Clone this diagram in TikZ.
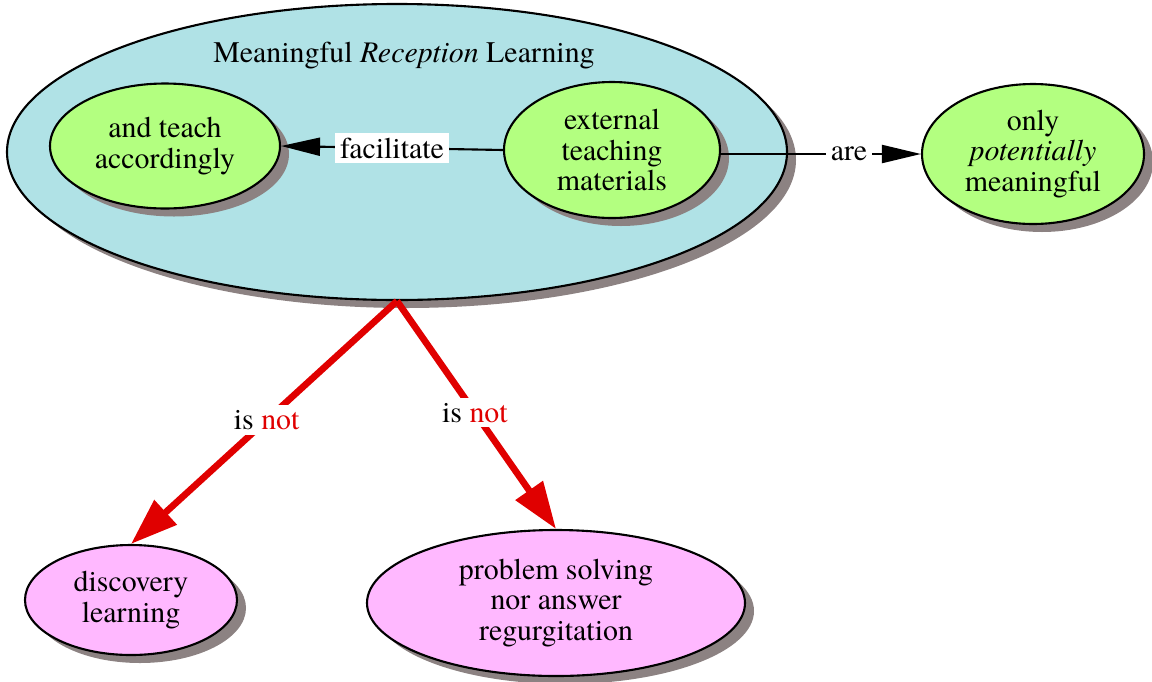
\documentclass[tikz,border=0pt]{standalone}
\usepackage{xcolor}
\usepackage{fontspec}
\setmainfont{texgyretermes}[Extension=.otf, UprightFont=*-regular, ItalicFont=*-italic, BoldFont=*-bold]
\usepackage{tikz}
\usetikzlibrary{shapes.geometric, arrows.meta, shadows}

\definecolor{cyanfill}{HTML}{B0E2E6}
\definecolor{greenfill}{HTML}{B3FF80}
\definecolor{pinkfill}{HTML}{FFB8FF}
\definecolor{shade}{HTML}{8C8282}
\definecolor{redline}{HTML}{E00000}

\begin{document}
\begin{tikzpicture}[
    concept/.style={ellipse, draw=black, line width=1.2pt, inner sep=0pt, align=center, font=\fontsize{17}{17.6}\selectfont,
        drop shadow={shadow xshift=0.18cm, shadow yshift=-0.16cm, fill=shade, opacity=1}},
    link/.style={-{Triangle[length=0.78cm, width=0.36cm]}, line width=1.2pt},
    notlink/.style={-{Triangle[length=0.94cm, width=0.64cm]}, line width=3.8pt, color=redline},
    word/.style={fill=white, inner sep=0.1cm, text=black, font=\fontsize{17}{17.6}\selectfont}
]
\useasboundingbox (0,0) rectangle (23.04,-13.62);
\node[concept, fill=cyanfill, minimum width=15.6cm, minimum height=5.92cm] (mrl) at (7.94,-3.04) {};
\node[font=\fontsize{17}{17.6}\selectfont] (mrltitle) at (8.08,-1.12) {Meaningful \textit{Reception} Learning};
\node[concept, fill=greenfill, minimum width=4.6cm, minimum height=2.5cm] (teach) at (3.30,-2.92) {and teach\\accordingly};
\node[concept, fill=greenfill, minimum width=4.32cm, minimum height=2.72cm] (ext) at (12.24,-3.00) {external\\teaching\\materials};
\node[concept, fill=greenfill, minimum width=4.44cm, minimum height=2.8cm] (pot) at (20.66,-3.08) {only\\\textit{potentially}\\meaningful};
\node[concept, fill=pinkfill, minimum width=4.24cm, minimum height=2.2cm] (disc) at (2.62,-12.0) {discovery\\learning};
\node[concept, fill=pinkfill, minimum width=7.56cm, minimum height=2.92cm] (prob) at (11.12,-12.06) {problem solving\\nor answer\\regurgitation};

\draw[link] (ext.west) -- node[word] (facil) {facilitate} (teach.east);
\draw[link] (ext.east |- pot.west) -- node[word, pos=0.64] (are) {are} (pot.west);
\draw[notlink] (mrl.south) -- node[word, pos=0.49] (isnot1) {is \textcolor{redline}{not}} (disc.north);
\draw[notlink] (mrl.south) -- node[word, pos=0.49] (isnot2) {is \textcolor{redline}{not}} (prob.north);
\end{tikzpicture}
\end{document}
